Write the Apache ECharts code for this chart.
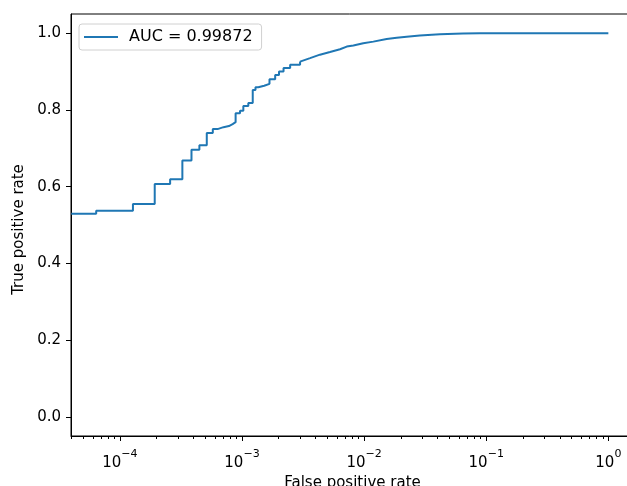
<!DOCTYPE html>
<html>
<head>
<meta charset="utf-8">
<script src="https://cdn.jsdelivr.net/npm/echarts@6/dist/echarts.min.js"></script>
<style>
html,body{margin:0;padding:0;background:#fff;}
#chart{width:627px;height:486px;}
</style>
</head>
<body>
<div id="chart"></div>
<script>
// ROC curve points (false positive rate, true positive rate)
// stepped part (low FPR)
var fprSteps = [4.0e-5, 6.4e-5, 1.28e-4, 1.93e-4, 2.58e-4, 3.25e-4, 3.86e-4, 4.48e-4, 5.15e-4, 5.77e-4,
  6.31e-4, 7.06e-4, 7.82e-4, 8.38e-4, 8.87e-4, 9.64e-4, 1.026e-3, 1.127e-3, 1.225e-3, 1.29e-3,
  1.36e-3, 1.52e-3, 1.68e-3, 1.87e-3, 2.01e-3, 2.19e-3, 2.48e-3, 2.99e-3];
var tprSteps = [0.529, 0.537, 0.555, 0.607, 0.619, 0.668, 0.696, 0.708, 0.740, 0.750,
  0.755, 0.758, 0.763, 0.768, 0.791, 0.798, 0.810, 0.818, 0.852, 0.859,
  0.863, 0.868, 0.880, 0.891, 0.900, 0.909, 0.918, 0.926];
// dense, smooth-looking part (higher FPR)
var fprTail = [2.99e-3, 3.61e-3, 4.35e-3, 5.26e-3, 6.35e-3, 7.21e-3, 8.17e-3, 9.84e-3, 1.19e-2, 1.53e-2,
  1.85e-2, 2.23e-2, 2.86e-2, 4.18e-2, 6.44e-2, 8.87e-2, 0.122, 1.0];
var tprTail = [0.926, 0.935, 0.944, 0.951, 0.958, 0.965, 0.968, 0.974, 0.978, 0.985,
  0.988, 0.991, 0.994, 0.997, 0.999, 0.9995, 1.0, 1.0];
var legendLabel = 'AUC = 0.99872';
var yTicks = [0.0, 0.2, 0.4, 0.6, 0.8, 1.0];
var minorMultipliers = [2, 3, 4, 5, 6, 7, 8, 9];
var minorDecades = [-5, -4, -3, -2, -1, 0];
var xLogMin = -4.4, xLogMax = 0.21;

var minorTicks = [];
minorDecades.forEach(function (d) {
  minorMultipliers.forEach(function (m) {
    var v = Math.log10(m) + d;
    if (v >= xLogMin && v <= xLogMax) minorTicks.push(v);
  });
});

var stepData = fprSteps.map(function (x, i) { return [x, tprSteps[i]]; });
var tailData = fprTail.map(function (x, i) { return [x, tprTail[i]]; });
var FONT = 'DejaVu Sans';
var FS = 15;
var LINE = {color: '#1f77b4', width: 2};

var chart = echarts.init(document.getElementById('chart'), null, {renderer: 'canvas'});
chart.setOption({
  animation: false,
  backgroundColor: '#ffffff',
  grid: {left: 71, top: 14, width: 563, height: 422, outerBoundsMode: 'none', containLabel: false,
    show: true, borderColor: '#000', borderWidth: 1, backgroundColor: 'transparent'},
  legend: {
    left: 79, top: 24,
    orient: 'vertical',
    data: [{name: legendLabel, icon: 'rect'}],
    itemWidth: 34, itemHeight: 2,
    padding: [5, 9, 5, 5],
    borderColor: '#d0d0d0', borderWidth: 1, borderRadius: 3,
    backgroundColor: 'rgba(255,255,255,0.8)',
    textStyle: {fontFamily: FONT, fontSize: 16, color: '#000', padding: [0, 0, 0, 6]}
  },
  xAxis: [{
    type: 'log',
    min: Math.pow(10, xLogMin), max: Math.pow(10, xLogMax),
    logBase: 10,
    name: 'False positive rate', nameLocation: 'middle', nameGap: 24,
    nameTextStyle: {fontFamily: FONT, fontSize: FS, color: '#000'},
    axisLine: {show: true, onZero: false, lineStyle: {color: '#000', width: 1}},
    axisTick: {show: true, length: 5, lineStyle: {color: '#000', width: 1}},
    splitLine: {show: false},
    axisLabel: {
      showMinLabel: false, showMaxLabel: false,
      margin: 13,
      formatter: function (v) {
        var e = Math.round(Math.log10(v));
        var s = e < 0 ? '\u2212' + (-e) : String(e);
        return '{b|10}{s|' + s + '}';
      },
      rich: {
        b: {fontFamily: FONT, fontSize: FS, color: '#000', lineHeight: 22, verticalAlign: 'bottom'},
        s: {fontFamily: FONT, fontSize: 11, color: '#000', lineHeight: 8, verticalAlign: 'top'}
      }
    }
  }, {
    type: 'value', min: xLogMin, max: xLogMax, position: 'bottom',
    axisLine: {show: false, onZero: false},
    axisLabel: {show: false},
    splitLine: {show: false},
    axisTick: {show: true, length: 3, customValues: minorTicks, lineStyle: {color: '#000', width: 1}}
  }],
  yAxis: {
    type: 'value', min: -0.05, max: 1.05,
    name: 'True positive rate', nameLocation: 'middle', nameGap: 39,
    nameTextStyle: {fontFamily: FONT, fontSize: FS, color: '#000', padding: [0, 9, 0, 0]},
    axisLine: {show: true, onZero: false, lineStyle: {color: '#000', width: 1}},
    axisTick: {show: true, length: 5, customValues: yTicks, lineStyle: {color: '#000', width: 1}},
    splitLine: {show: false},
    axisLabel: {
      customValues: yTicks, margin: 10,
      fontFamily: FONT, fontSize: FS, color: '#000',
      formatter: function (v) { return v.toFixed(1); }
    }
  },
  series: [{
    name: legendLabel,
    type: 'line',
    xAxisIndex: 0,
    step: 'end',
    data: stepData,
    symbol: 'none',
    clip: true,
    lineStyle: LINE,
    itemStyle: {color: '#1f77b4'}
  }, {
    name: legendLabel,
    type: 'line',
    xAxisIndex: 0,
    data: tailData,
    symbol: 'none',
    clip: true,
    lineStyle: LINE,
    itemStyle: {color: '#1f77b4'}
  }]
});
</script>
</body>
</html>
